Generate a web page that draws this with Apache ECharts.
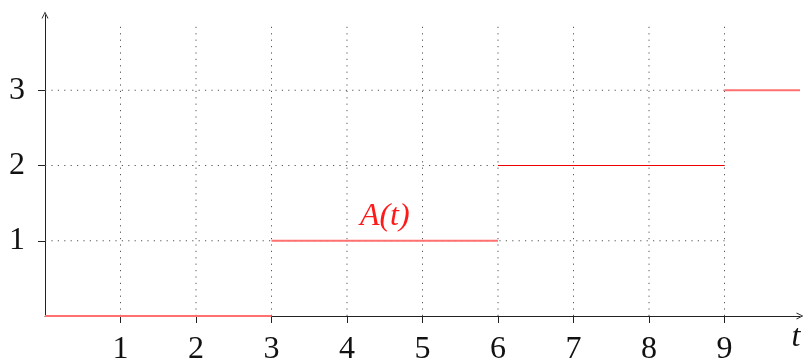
<!DOCTYPE html>
<html><head><meta charset="utf-8">
<script src="https://cdn.jsdelivr.net/npm/echarts@6/dist/echarts.min.js"></script>
<style>html,body{margin:0;padding:0;background:#fff}#c{width:803px;height:358px}</style>
</head><body><div id="c"></div>
<script>
// Data
const xTicks = [1, 2, 3, 4, 5, 6, 7, 8, 9];
const yTicks = [1, 2, 3];
const segStart = [0, 3, 6, 9];
const segEnd = [3, 6, 9, 10];
const segValue = [0, 1, 2, 3];
const labelText = 'A(t)';
const labelAt = [4.5, 1];
const gridXMax = 9;
const gridYMax = 3.9;

const font = 'Liberation Serif';
const segColors = ['#ff7070', '#ff7070', '#ee0000', '#ff7070'];
const segWidths = [2, 2, 1, 2];
const arrow = 'path://M0,10 L5,0 L10,10 L8.6,10 L5,2.6 L1.4,10 Z';

const series = [];
const dotted = { color: '#555', width: 1, type: [1.2, 5.2] };
xTicks.forEach(x => series.push({
  type: 'line', silent: true, symbol: 'none', z: 1,
  data: [[x, 0], [x, gridYMax]], lineStyle: dotted
}));
yTicks.forEach(y => series.push({
  type: 'line', silent: true, symbol: 'none', z: 1,
  data: [[0, y], [gridXMax, y]], lineStyle: dotted
}));
segStart.forEach((s, i) => series.push({
  type: 'line', silent: true, symbol: 'none', z: 5,
  data: [[s, segValue[i]], [segEnd[i], segValue[i]]],
  lineStyle: { color: segColors[i], width: segWidths[i] },
  markPoint: i === 1 ? {
    symbol: 'circle', symbolSize: 0,
    data: [{ coord: labelAt }],
    label: { show: true, position: 'top', distance: 8, formatter: labelText,
      color: '#ff1a1a', fontFamily: font, fontStyle: 'italic', fontSize: 32 }
  } : undefined
}));

const chart = echarts.init(document.getElementById('c'));
chart.setOption({
  animation: false,
  grid: { left: 45, right: 3, top: 15, bottom: 42, containLabel: false, outerBoundsMode: 'none' },
  xAxis: {
    type: 'value', min: 0, max: 10, interval: 1,
    axisLine: { show: true, onZero: false, symbol: ['none', arrow], symbolSize: [8, 7],
      lineStyle: { color: '#222', width: 1 } },
    axisTick: { show: true, customValues: xTicks, length: 7, lineStyle: { color: '#222' } },
    axisLabel: { customValues: xTicks, margin: 18, color: '#111', fontFamily: font, fontSize: 32 },
    splitLine: { show: false },
    name: 't', nameLocation: 'end', nameGap: -4,
    nameTextStyle: { fontFamily: font, fontStyle: 'italic', fontSize: 32, color: '#111',
      align: 'center', verticalAlign: 'top', padding: [6, 0, 0, 0] }
  },
  yAxis: {
    type: 'value', min: 0, max: 4, interval: 1,
    axisLine: { show: true, onZero: false, symbol: ['none', arrow], symbolSize: [8, 7],
      lineStyle: { color: '#222', width: 1 } },
    axisTick: { show: true, customValues: yTicks, length: 7, lineStyle: { color: '#222' } },
    axisLabel: { customValues: yTicks, margin: 20, color: '#111', fontFamily: font, fontSize: 32 },
    splitLine: { show: false }
  },
  series: series
});
</script></body></html>
